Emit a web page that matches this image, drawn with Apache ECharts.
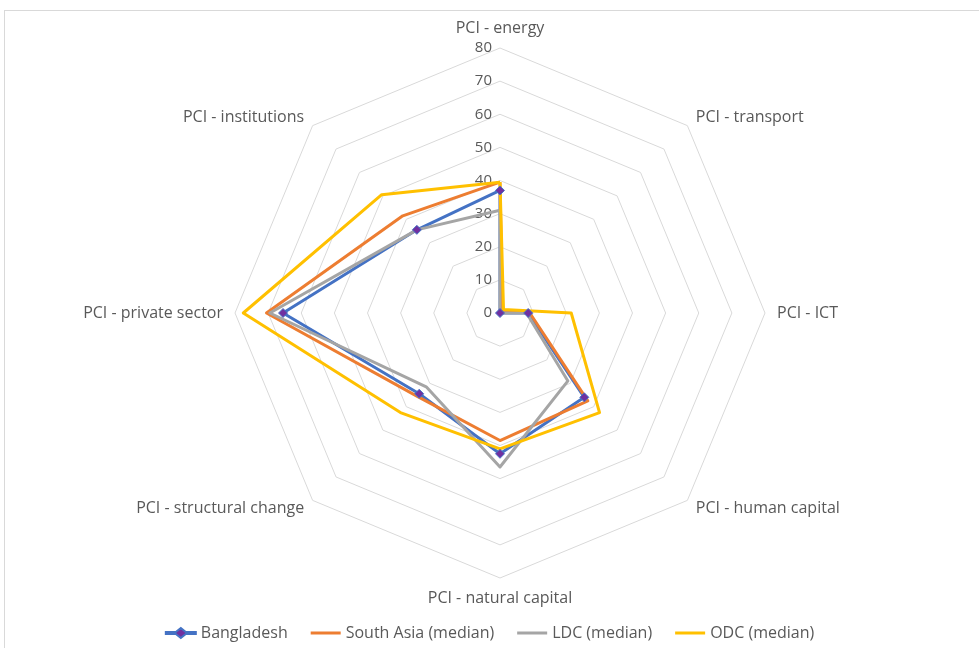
<!DOCTYPE html>
<html>
<head>
<meta charset="utf-8">
<script src="https://cdn.jsdelivr.net/npm/echarts@6/dist/echarts.min.js"></script>
<style>
  html, body { margin: 0; padding: 0; background: #fff; }
  #frame { position: absolute; left: 4px; top: 10px; width: 990px; height: 660px; border: 1px solid #d9d9d9; }
  #chart { position: absolute; left: 0; top: 0; width: 979px; height: 648px; }
</style>
</head>
<body>
<div id="frame"></div>
<div id="chart"></div>
<script>
// indicators in the clockwise order of the original chart
const categories = ['PCI - energy', 'PCI - transport', 'PCI - ICT', 'PCI - human capital',
  'PCI - natural capital', 'PCI - structural change', 'PCI - private sector', 'PCI - institutions']
const bangladesh = [37, 0, 8.5, 36, 42.5, 34.5, 65.5, 35.5]
const southAsia = [39.5, 1, 9, 37.5, 38.5, 35.5, 70.5, 41.5]
const ldc = [31, 0, 8, 29, 46.5, 31.5, 69.5, 35.5]
const odc = [39.5, 1.5, 21.5, 42.5, 41, 42.5, 77.5, 50.5]
const tickLabels = [0, 10, 20, 30, 40, 50, 60, 70, 80]

// echarts radar goes counter-clockwise, so flip everything after the first axis
const order = arr => [arr[0]].concat(arr.slice(1).reverse())

const txt = '#595959'
const grid = '#d9d9d9'
const font = 'Open Sans'

const indicator = order(categories).map((name, i) => ({
  name,
  min: tickLabels[0],
  max: tickLabels[tickLabels.length - 1],
  axisLabel: i === 0 ? { show: true } : undefined
}))

const lineIcon = 'path://M0,0 L30,0 L30,3 L0,3 Z'
const diamondIcon = 'path://M0,4 L10,4 L15,0 L20,4 L30,4 L30,6 L20,6 L15,10 L10,6 L0,6 Z'

const mk = (name, values, color, marker) => ({
  name,
  type: 'radar',
  symbol: marker ? 'diamond' : 'none',
  symbolSize: 9,
  itemStyle: marker ? { color: '#7030A0', borderColor: '#4472C4', borderWidth: 1 } : { color },
  lineStyle: { color, width: 3 },
  data: [{ name, value: order(values) }]
})

const chart = echarts.init(document.getElementById('chart'))
chart.setOption({
  animation: false,
  textStyle: { fontFamily: font },
  color: ['#4472C4', '#ED7D31', '#A5A5A5', '#FFC000'],
  legend: {
    bottom: 2,
    left: 'center',
    itemGap: 23,
    itemWidth: 30,
    itemHeight: 10,
    textStyle: { color: txt, fontSize: 16, fontFamily: font },
    data: [
      { name: 'Bangladesh', icon: diamondIcon },
      { name: 'South Asia (median)', icon: lineIcon, itemStyle: { color: '#ED7D31' } },
      { name: 'LDC (median)', icon: lineIcon },
      { name: 'ODC (median)', icon: lineIcon }
    ]
  },
  radar: {
    center: [500, 313],
    radius: 265,
    shape: 'polygon',
    splitNumber: tickLabels.length - 1,
    nameGap: 12,
    axisName: { color: txt, fontSize: 16, fontFamily: font },
    axisLine: { show: false },
    axisTick: { show: false },
    axisLabel: { show: false, color: txt, fontSize: 15, fontFamily: font },
    splitLine: { lineStyle: { color: grid, width: 1 } },
    splitArea: { show: false },
    indicator
  },
  series: [
    mk('Bangladesh', bangladesh, '#4472C4', true),
    mk('South Asia (median)', southAsia, '#ED7D31'),
    mk('LDC (median)', ldc, '#A5A5A5'),
    mk('ODC (median)', odc, '#FFC000')
  ]
})
</script>
</body>
</html>
